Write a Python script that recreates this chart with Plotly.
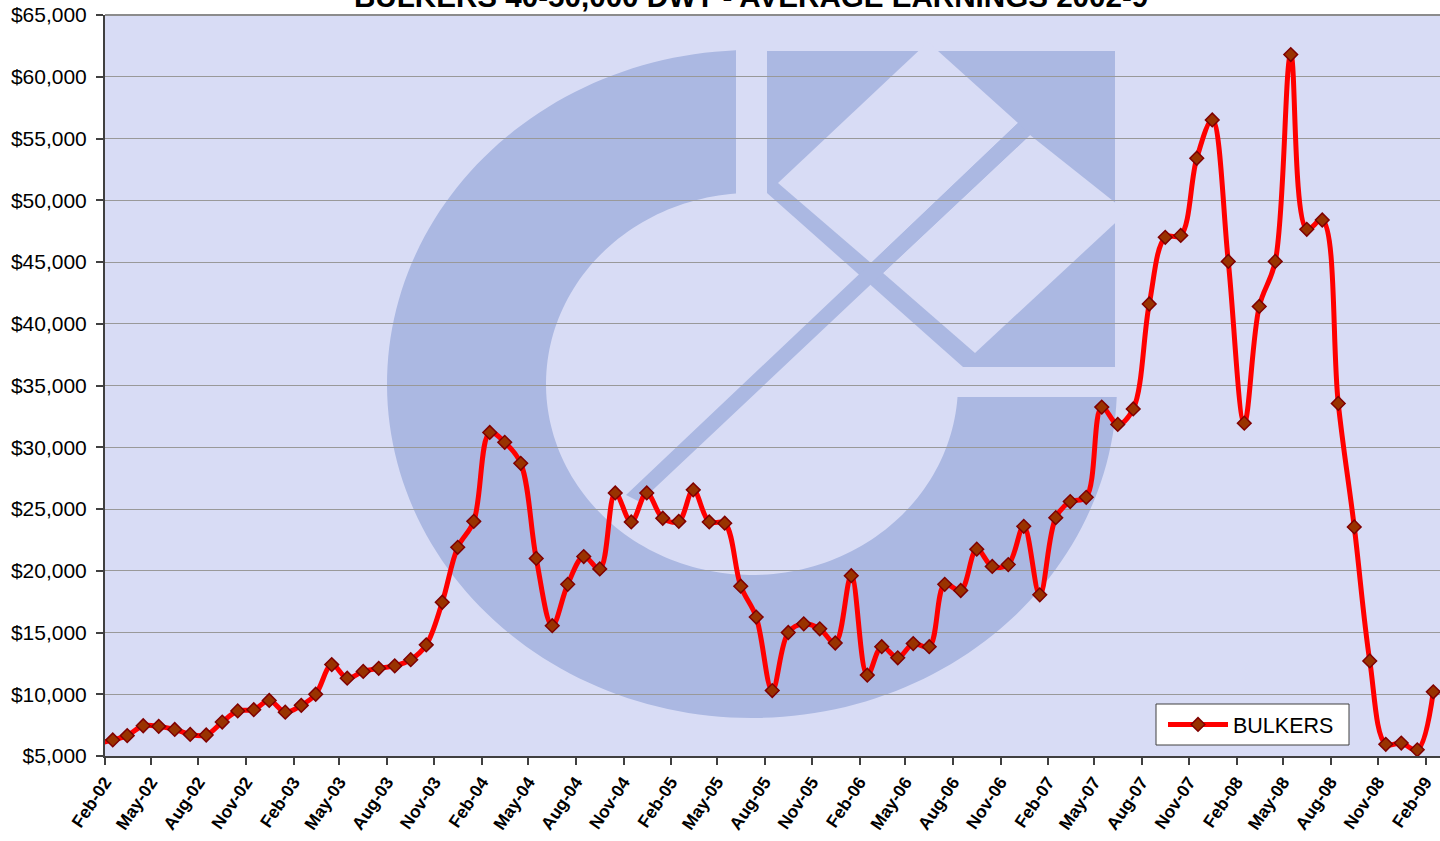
import math
import pandas as pd
import plotly.graph_objects as go

# ---------------- data ----------------
title_text = "BULKERS 40-50,000 DWT - AVERAGE EARNINGS 2002-9"
series_name = "BULKERS"

# monthly observations, Jan-02 ... Feb-09 (USD/day)
months = pd.date_range("2002-01-01", "2009-02-01", freq="MS")
earnings = [
    6000,                                                        # Jan-02
    6300, 6650, 7450, 7400, 7150, 6750, 6700, 7750, 8650, 8750, 9500,   # Feb-02..Dec-02
    8550, 9100, 10000, 12400, 11300, 11850, 12100, 12300, 12800, 14000, 17450, 21900,  # 2003
    24000, 31200, 30400, 28700, 21000, 15550, 18900, 21150, 20150, 26300, 23950, 26300,  # 2004
    24250, 24000, 26550, 23950, 23850, 18750, 16250, 10300, 15000, 15700, 15300, 14150,  # 2005
    19600, 11550, 13850, 12950, 14100, 13850, 18900, 18400, 21750, 20350, 20500, 23600,  # 2006
    18050, 24300, 25600, 25950, 33250, 31850, 33100, 41600, 47000, 47150, 53400, 56500,  # 2007
    45050, 31950, 41400, 45050, 61800, 47650, 48400, 33550, 23550, 12700, 5950, 6050,    # 2008
    5500, 10200,                                                 # Jan-09, Feb-09
]

tick_labels = [
    "Feb-02", "May-02", "Aug-02", "Nov-02",
    "Feb-03", "May-03", "Aug-03", "Nov-03",
    "Feb-04", "May-04", "Aug-04", "Nov-04",
    "Feb-05", "May-05", "Aug-05", "Nov-05",
    "Feb-06", "May-06", "Aug-06", "Nov-06",
    "Feb-07", "May-07", "Aug-07", "Nov-07",
    "Feb-08", "May-08", "Aug-08", "Nov-08",
    "Feb-09",
]

# ---------------- styling / layout ----------------
W, H = 1440, 841
PL, PR, PT, PB = 105, 1440, 15, 756        # plot-area pixel box
BG = "#D8DCF5"
LOGO = "#ABB8E2"
FONT = "Liberation Sans, Arial, sans-serif"

x_points = months + pd.Timedelta(days=15)
tick_vals = pd.to_datetime(tick_labels, format="%b-%y")


def P(px, py):
    return (px - PL) / (PR - PL), (PB - py) / (PB - PT)


def path_from(points):
    pts = [P(x, y) for x, y in points]
    s = "M{:.5f},{:.5f} ".format(*pts[0])
    s += " ".join("L{:.5f},{:.5f}".format(u, v) for u, v in pts[1:])
    return s + " Z"


# watermark logo geometry (pixel coordinates)
cx, cy = 752, 384
orx, ory = 365, 334
irx, iry = 206, 191
t0o = math.degrees(math.acos((736 - cx) / orx))
t1o = 360 - math.degrees(math.asin((397 - cy) / ory))
t0i = math.degrees(math.acos((736 - cx) / irx))
t1i = 360 - math.degrees(math.asin((397 - cy) / iry))
ring = []
n = 160
for i in range(n + 1):
    t = math.radians(t0o + (t1o - t0o) * i / n)
    ring.append((cx + orx * math.cos(t), cy - ory * math.sin(t)))
for i in range(n + 1):
    t = math.radians(t1i + (t0i - t1i) * i / n)
    ring.append((cx + irx * math.cos(t), cy - iry * math.sin(t)))

block = [(767, 51), (1115, 51), (1115, 367), (963, 367), (767, 193)]
diamond_a = [(778, 183), (928, 42), (1018, 123), (871, 263)]
diamond_b = [(883, 273), (1030, 135), (1127, 212), (975, 353)]
stripe = [(1018, 123), (1030, 135), (883, 273), (640, 502), (626, 495), (871, 263)]

shapes = []
for pts, col in [(ring, LOGO), (block, LOGO), (diamond_a, BG), (diamond_b, BG), (stripe, LOGO)]:
    shapes.append(dict(type="path", xref="paper", yref="paper", path=path_from(pts),
                       fillcolor=col, line=dict(width=0), layer="below"))
# top border of plot area
shapes.append(dict(type="line", xref="paper", yref="paper", x0=0, x1=1, y0=1, y1=1,
                   line=dict(color="#8C8C8C", width=2), layer="above"))
# legend frame
lx0, ly0 = P(1156, 745)
lx1, ly1 = P(1349, 704)
shapes.append(dict(type="rect", xref="paper", yref="paper", x0=lx0, x1=lx1, y0=ly0, y1=ly1,
                   fillcolor="white", line=dict(color="#404040", width=1), layer="above"))

fig = go.Figure()
fig.add_trace(go.Scatter(
    x=x_points, y=earnings, name=series_name, mode="lines+markers",
    line=dict(color="#FF0000", width=5, shape="spline", smoothing=1.0),
    marker=dict(symbol="diamond", size=10.5, color="#993300",
                line=dict(color="#800000", width=1.5)),
))

fig.update_layout(
    width=W, height=H,
    margin=dict(l=PL, r=W - PR, t=PT, b=H - PB, pad=0),
    paper_bgcolor="white", plot_bgcolor=BG,
    font=dict(family=FONT, color="black"),
    shapes=shapes,
    showlegend=True,
    legend=dict(x=P(1163, 0)[0], y=P(0, 704)[1], xanchor="left", yanchor="top",
                bgcolor="rgba(0,0,0,0)", borderwidth=0,
                font=dict(size=21.5, family=FONT), itemwidth=60),
    annotations=[dict(text=title_text, xref="paper", yref="paper",
                      x=P(751, 0)[0], y=P(0, -4)[1], xanchor="center", yanchor="middle",
                      showarrow=False, font=dict(size=29.6, family=FONT, weight="bold"))],
)

fig.update_xaxes(
    type="date", range=["2002-02-01", "2009-03-01"],
    tickmode="array", tickvals=tick_vals, ticktext=tick_labels,
    tickangle=-56, tickfont=dict(size=17.5, family=FONT, weight="bold"),
    ticks="outside", ticklen=7, tickwidth=1.5, tickcolor="#404040",
    showline=True, linecolor="#404040", linewidth=2, showgrid=False, zeroline=False,
)
fig.update_yaxes(
    range=[5000, 65000], dtick=5000, tick0=5000, tickformat="$,.0f",
    tickfont=dict(size=21, family=FONT), ticklabelstandoff=5,
    ticks="outside", ticklen=7, tickwidth=1.5, tickcolor="#404040",
    showline=True, linecolor="#404040", linewidth=2,
    showgrid=True, gridcolor="#999999", gridwidth=1, zeroline=False,
)

fig.write_html(
    "out.html",
    config={"displayModeBar": False},
    post_script="document.body.style.margin='0';document.body.style.overflow='hidden';",
)
